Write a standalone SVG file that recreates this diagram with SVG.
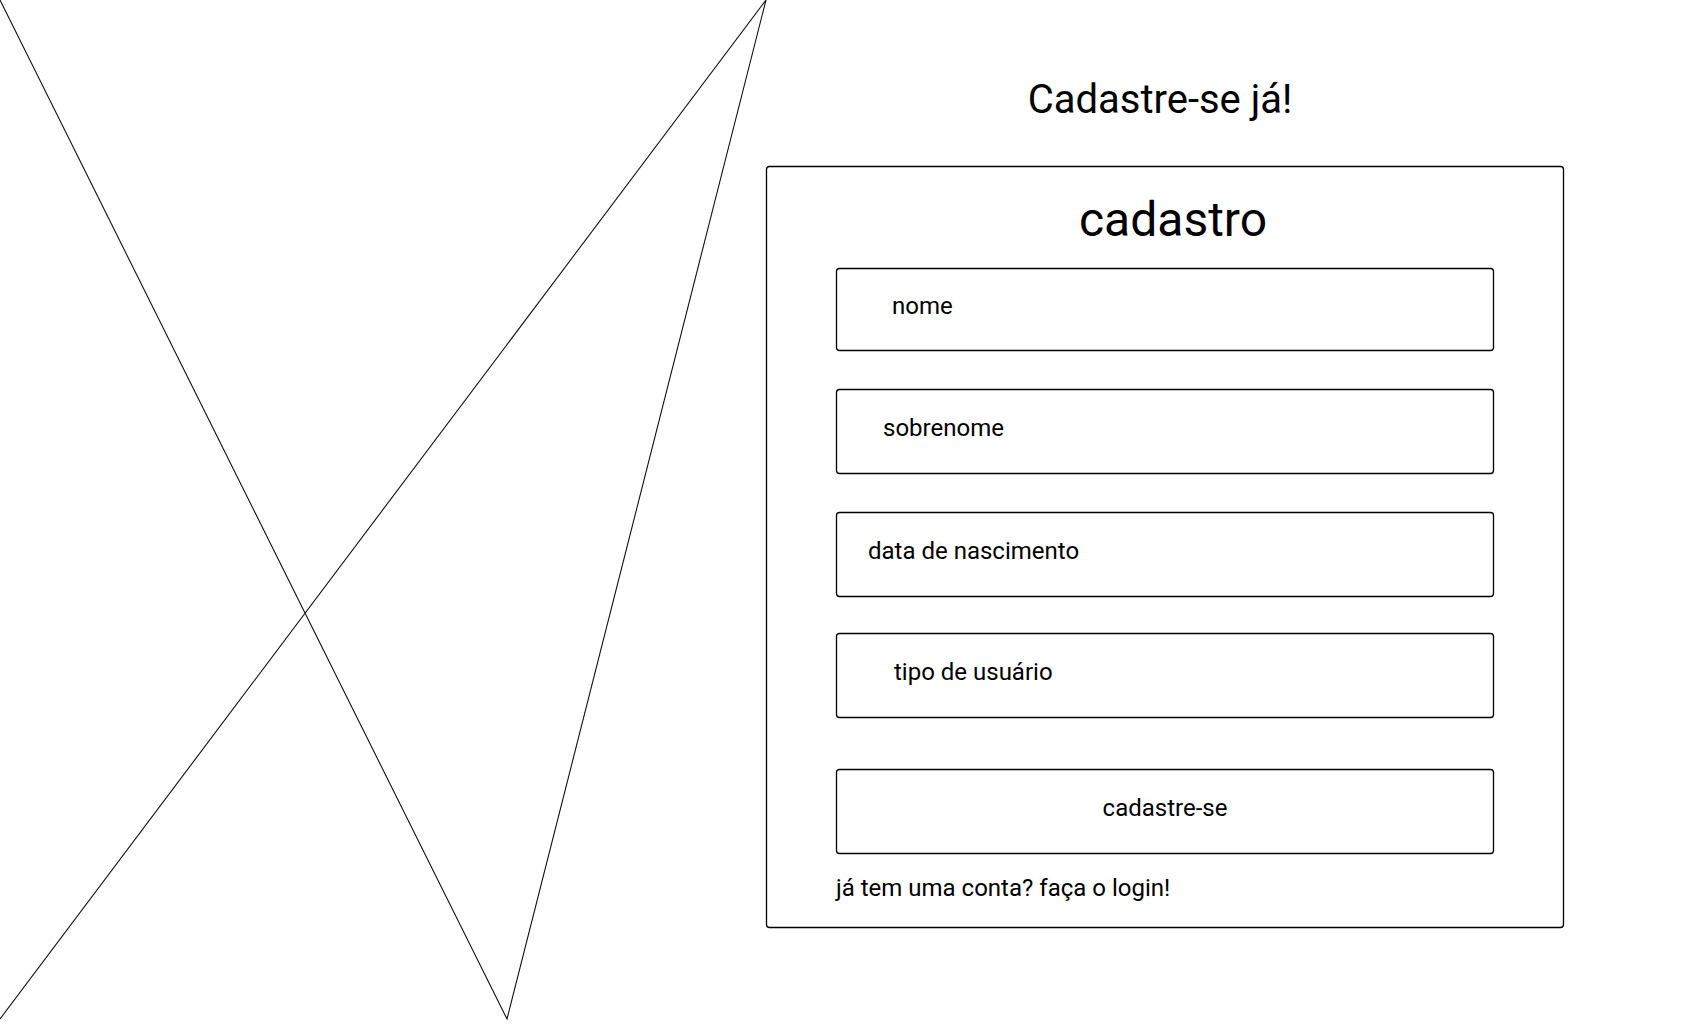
<svg xmlns="http://www.w3.org/2000/svg" width="1682" height="1024" viewBox="0 0 1682 1024">
<style>
text{font-family:Roboto,"Liberation Sans",sans-serif;fill:#000}
.box{fill:#fff;stroke:#000;stroke-width:1.3}
.lbl{font-size:24px}
.ln{fill:none;stroke:#111;stroke-width:1.1}
</style>
<rect width="1682" height="1024" fill="#fff"/>
<g id="placeholder">
<polyline class="ln" points="0,0 507,1019 766,0 0,1019"/>
</g>
<g id="title"><text x="1160" y="113" font-size="40" text-anchor="middle">Cadastre-se já!</text></g>
<g id="form">
<rect class="box" x="766.5" y="166.5" width="797" height="761" rx="3"/>
<text x="1173" y="236" font-size="48" text-anchor="middle">cadastro</text>
</g>
<g id="nome"><rect class="box" x="836.5" y="268.5" width="657" height="82" rx="3"/><text class="lbl" x="892" y="314">nome</text></g>
<g id="sobrenome"><rect class="box" x="836.5" y="389.5" width="657" height="84" rx="3"/><text class="lbl" x="883" y="436">sobrenome</text></g>
<g id="nascimento"><rect class="box" x="836.5" y="512.5" width="657" height="84" rx="3"/><text class="lbl" x="868" y="559">data de nascimento</text></g>
<g id="tipo"><rect class="box" x="836.5" y="633.5" width="657" height="84" rx="3"/><text class="lbl" x="894" y="680">tipo de usuário</text></g>
<g id="botao"><rect class="box" x="836.5" y="769.5" width="657" height="84" rx="3"/><text class="lbl" x="1165" y="816" text-anchor="middle">cadastre-se</text></g>
<g id="login"><text class="lbl" x="836" y="896">já tem uma conta? faça o login!</text></g>
<g id="connectors"></g>
</svg>
